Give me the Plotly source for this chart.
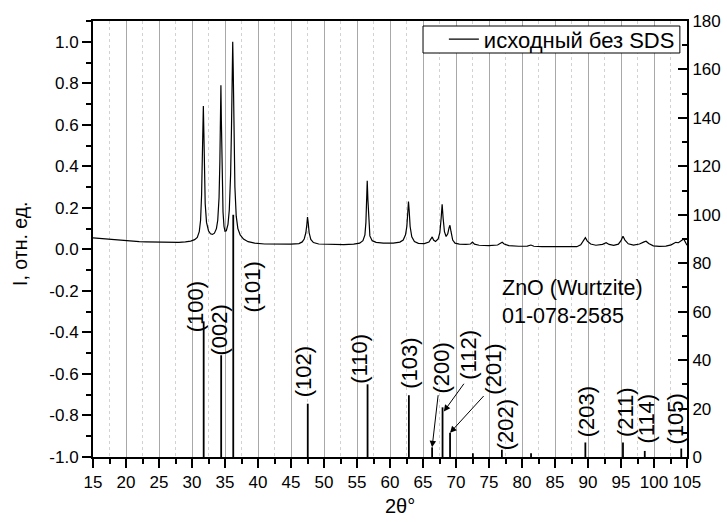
import plotly.graph_objects as go

# Measured XRD pattern: 2θ (deg) and normalized intensity
two_theta = [
    15.0, 16.0, 17.0, 18.0, 19.0, 20.0, 21.0, 22.0, 23.0, 24.0, 25.0, 26.0, 27.0, 28.0, 29.0,
    29.8, 30.4, 30.8, 31.1, 31.3, 31.45, 31.55, 31.65, 31.72, 31.8, 31.9, 32.0, 32.2, 32.5,
    32.8, 33.1, 33.4, 33.7, 33.9, 34.1, 34.22, 34.32, 34.38, 34.45, 34.55, 34.7, 34.85, 35.0,
    35.2, 35.45, 35.65, 35.85, 35.98, 36.1, 36.17, 36.25, 36.35, 36.5, 36.7, 36.95, 37.3, 37.8,
    38.5, 39.5, 41.0, 43.0, 45.0, 46.2, 46.7, 47.0, 47.25, 47.4, 47.5, 47.6, 47.75, 48.0, 48.4,
    49.2, 51.0, 53.0, 54.5, 55.4, 55.9, 56.2, 56.35, 56.45, 56.55, 56.65, 56.78, 56.95, 57.3,
    57.9, 59.0, 60.5, 61.5, 62.0, 62.35, 62.55, 62.7, 62.8, 62.9, 63.05, 63.3, 63.7, 64.3,
    65.2, 65.9, 66.25, 66.4, 66.6, 66.9, 67.3, 67.55, 67.75, 67.9, 68.05, 68.25, 68.5, 68.75,
    68.95, 69.08, 69.25, 69.5, 69.85, 70.5, 71.5, 72.2, 72.5, 72.8, 73.5, 75.0, 76.3, 76.75,
    77.0, 77.3, 78.0, 79.5, 80.8, 81.35, 81.8, 83.0, 85.0, 87.0, 88.3, 88.9, 89.3, 89.6, 89.9,
    90.4, 91.2, 92.2, 92.75, 93.2, 93.9, 94.6, 95.0, 95.3, 95.6, 96.1, 96.9, 97.8, 98.5, 98.8,
    99.2, 99.9, 100.8, 101.8, 102.6, 103.3, 103.7, 104.1, 104.5, 104.8, 105.0,
]
intensity = [
    0.055, 0.052, 0.050, 0.047, 0.044, 0.041, 0.039, 0.037, 0.036, 0.035, 0.034, 0.033, 0.033, 0.034, 0.036,
    0.040, 0.047, 0.058, 0.085, 0.14, 0.26, 0.42, 0.62, 0.69, 0.56, 0.36, 0.22, 0.13, 0.09,
    0.075, 0.072, 0.078, 0.10, 0.14, 0.25, 0.42, 0.66, 0.79, 0.62, 0.38, 0.18, 0.11, 0.088,
    0.09, 0.12, 0.19, 0.36, 0.58, 0.85, 1.0, 0.86, 0.56, 0.30, 0.16, 0.10, 0.07, 0.05,
    0.037, 0.03, 0.026, 0.024, 0.025, 0.028, 0.036, 0.05, 0.08, 0.12, 0.156, 0.13, 0.08, 0.048, 0.033,
    0.026, 0.023, 0.023, 0.025, 0.03, 0.042, 0.07, 0.13, 0.22, 0.33, 0.24, 0.12, 0.065, 0.042,
    0.034, 0.030, 0.030, 0.035, 0.045, 0.07, 0.11, 0.18, 0.23, 0.19, 0.11, 0.06, 0.038, 0.029,
    0.028, 0.035, 0.052, 0.06, 0.045, 0.038, 0.05, 0.08, 0.15, 0.217, 0.15, 0.085, 0.062, 0.075,
    0.105, 0.116, 0.085, 0.045, 0.03, 0.025, 0.024, 0.026, 0.035, 0.025, 0.02, 0.018, 0.021, 0.03,
    0.034, 0.026, 0.018, 0.015, 0.016, 0.021, 0.015, 0.013, 0.012, 0.011, 0.013, 0.022, 0.042, 0.056, 0.04,
    0.026, 0.02, 0.024, 0.032, 0.024, 0.019, 0.025, 0.042, 0.063, 0.045, 0.027, 0.021, 0.026, 0.036, 0.039,
    0.028, 0.017, 0.014, 0.016, 0.022, 0.034, 0.032, 0.04, 0.05, 0.032, 0.02,
]

# ZnO (Wurtzite) card 01-078-2585: line positions, relative intensities, indices
ref_pos = [31.77, 34.42, 36.25, 47.54, 56.60, 62.86, 66.38, 67.96, 69.10, 72.56,
           76.95, 81.37, 89.60, 95.30, 98.60, 104.13]
ref_int = [56, 42, 100, 22, 30, 25.5, 4, 20.5, 10, 1.5,
           3, 1.5, 6, 6, 2.5, 3.5]
ref_hkl = ["(100)", "(002)", "(101)", "(102)", "(110)", "(103)", "(200)", "(112)", "(201)", "",
           "(202)", "", "(203)", "(211)", "(114)", "(105)"]

# Axis ticks
x_ticks = list(range(15, 106, 5))
y_ticks = [-1.0, -0.8, -0.6, -0.4, -0.2, 0.0, 0.2, 0.4, 0.6, 0.8, 1.0]
y_tick_text = ["-1.0", "-0.8", "-0.6", "-0.4", "-0.2", "0.0", "0.2", "0.4", "0.6", "0.8", "1.0"]
y2_ticks = list(range(0, 181, 20))

# Label centres (2θ, left-axis units) for the hkl texts
label_pos = {
    "(100)": (30.45, -0.274), "(002)": (34.24, -0.386), "(101)": (39.14, -0.182),
    "(102)": (46.86, -0.591), "(110)": (55.45, -0.527), "(103)": (63.03, -0.551),
    "(200)": (67.83, -0.571), "(112)": (71.86, -0.506), "(201)": (75.65, -0.578),
    "(202)": (77.42, -0.843), "(203)": (89.80, -0.781), "(211)": (95.60, -0.784),
    "(114)": (98.90, -0.816), "(105)": (103.30, -0.816),
}
# Leader arrows for crowded labels: tail (2θ, y), head at line top
arrow_tails = {"(200)": (67.32, -0.695), "(112)": (71.36, -0.64), "(201)": (74.4, -0.699)}

FONT = "Liberation Sans, Arial, sans-serif"
Y_MIN, Y_MAX = -1.0, 1.1
Y2_MAX = 180.0


def to_left(v):
    """Convert a right-axis value to left-axis units."""
    return Y_MIN + v * (Y_MAX - Y_MIN) / Y2_MAX


fig = go.Figure()

fig.add_trace(go.Scatter(
    x=two_theta, y=intensity, mode="lines", name="исходный без SDS",
    line=dict(color="black", width=1.2), yaxis="y",
))

stick_x, stick_y = [], []
for p, h in zip(ref_pos, ref_int):
    stick_x += [p, p, None]
    stick_y += [0, h, None]
fig.add_trace(go.Scatter(
    x=stick_x, y=stick_y, mode="lines", showlegend=False,
    line=dict(color="black", width=1.8), yaxis="y2",
))

annotations = []
for hkl, p, h in zip(ref_hkl, ref_pos, ref_int):
    if not hkl:
        continue
    lx, ly = label_pos[hkl]
    annotations.append(dict(
        x=lx, y=ly, xref="x", yref="y", text=hkl, showarrow=False,
        textangle=-90, xanchor="center", yanchor="middle",
        font=dict(family=FONT, size=22, color="black"),
    ))
    if hkl in arrow_tails:
        tx, ty = arrow_tails[hkl]
        hx = p + (0.2 if hkl == "(112)" else 0.0)
        annotations.append(dict(
            x=hx, y=to_left(h) - (0.02 if hkl == "(112)" else 0.0), xref="x", yref="y",
            ax=tx, ay=ty, axref="x", ayref="y", text="", showarrow=True,
            arrowhead=2, arrowsize=1.3, arrowwidth=1, arrowcolor="black", standoff=0,
        ))

annotations.append(dict(
    x=76.67, y=-0.12, xref="x", yref="y", xanchor="left", yanchor="top", align="left",
    text="ZnO (Wurtzite)<br>01-078-2585", showarrow=False,
    font=dict(family=FONT, size=21.5, color="black"),
))

# Axis titles
annotations.append(dict(
    x=-0.123, y=0.4885, xref="paper", yref="paper", text="I, отн. ед.", showarrow=False,
    textangle=-90, xanchor="center", yanchor="middle",
    font=dict(family=FONT, size=19.5, color="black"),
))
annotations.append(dict(
    x=0.5168, y=-0.1124, xref="paper", yref="paper", text="2θ°", showarrow=False,
    xanchor="center", yanchor="middle",
    font=dict(family=FONT, size=20, color="black"),
))

# Legend frame
shapes = [dict(
    type="rect", xref="paper", yref="paper", x0=0.5556, x1=0.988, y0=0.9266, y1=0.9885,
    line=dict(color="black", width=1), fillcolor="white", layer="above",
)]

fig.update_layout(
    width=727, height=522,
    margin=dict(l=93, r=40, t=21, b=65, autoexpand=False),
    paper_bgcolor="white", plot_bgcolor="white",
    font=dict(family=FONT, size=17, color="black"),
    showlegend=True,
    legend=dict(
        x=0.988, y=1.006, xanchor="right", yanchor="top",
        borderwidth=0, bgcolor="rgba(0,0,0,0)",
        font=dict(family=FONT, size=22, color="black"),
        itemwidth=30, tracegroupgap=0,
    ),
    xaxis=dict(
        range=[15, 105], tickvals=x_ticks, ticks="outside", ticklen=9, tickwidth=1.5,
        tickcolor="black", showline=True, linecolor="black", linewidth=2, mirror=True,
        showgrid=True, gridcolor="#a8a8a8", gridwidth=1, zeroline=False, automargin=False,
        minor=dict(dtick=2.5, tick0=15, ticks="outside", ticklen=5, tickwidth=1.5,
                   tickcolor="black", showgrid=True, gridcolor="#d2d2d2", griddash="dot"),
        tickfont=dict(family=FONT, size=17),
    ),
    yaxis=dict(
        range=[Y_MIN, Y_MAX], tickvals=y_ticks, ticktext=y_tick_text,
        ticks="outside", ticklen=9, tickwidth=1.5, tickcolor="black", automargin=False,
        showline=True, linecolor="black", linewidth=2, showgrid=False, zeroline=False,
        minor=dict(dtick=0.1, tick0=0, ticks="outside", ticklen=5, tickwidth=1.5,
                   tickcolor="black", showgrid=False),
        tickfont=dict(family=FONT, size=17),
    ),
    yaxis2=dict(
        range=[0, Y2_MAX], tickvals=y2_ticks, overlaying="y", side="right",
        ticks="inside", ticklen=9, tickwidth=1.5, tickcolor="black", automargin=False,
        showline=True, linecolor="black", linewidth=2, showgrid=False, zeroline=False,
        minor=dict(dtick=10, tick0=0, ticks="inside", ticklen=5, tickwidth=1.5,
                   tickcolor="black", showgrid=False),
        tickfont=dict(family=FONT, size=17),
    ),
    shapes=shapes,
    annotations=annotations,
)

fig.write_html("out.html")
